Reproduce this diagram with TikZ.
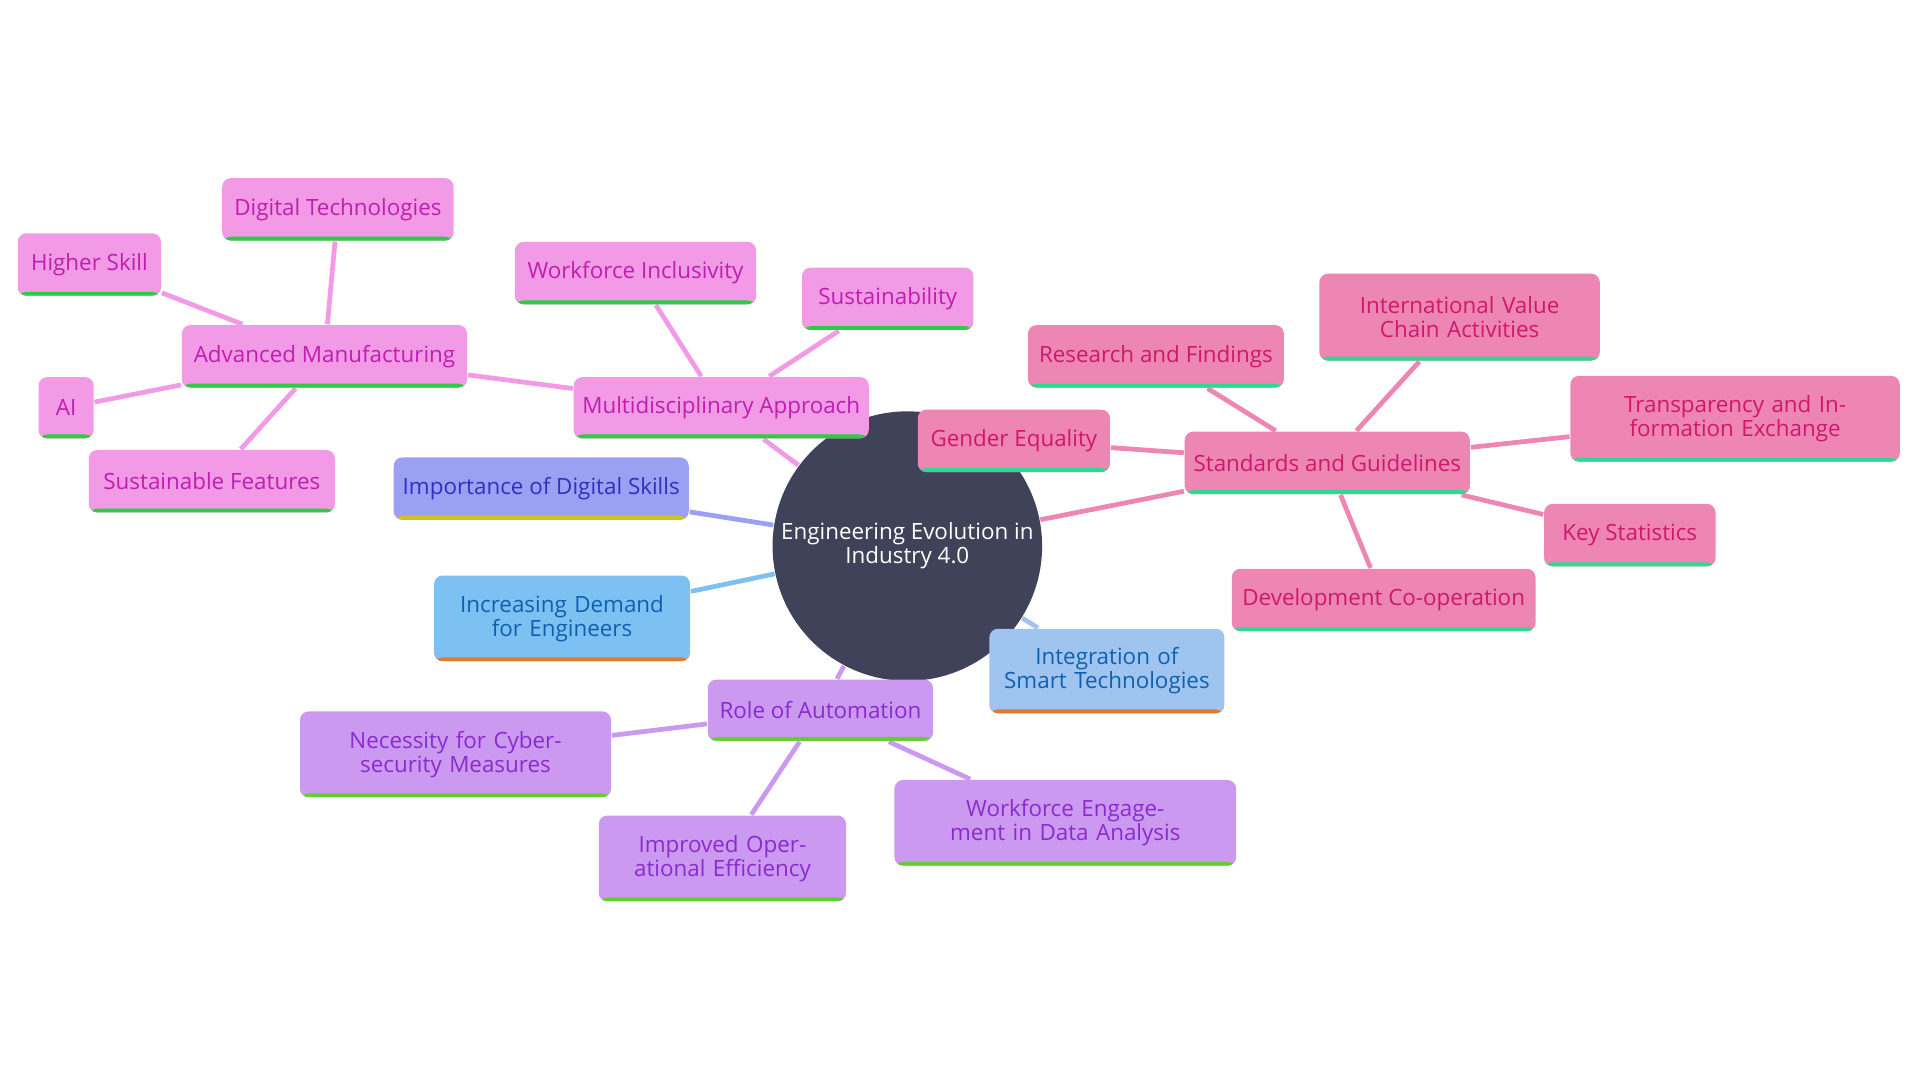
\documentclass[tikz,border=0pt]{standalone}
\usepackage{fontspec}
\setmainfont{Open Sans}
\usetikzlibrary{backgrounds}
\definecolor{rootFill}{HTML}{404259}
\definecolor{magFill}{HTML}{F29AE6}
\definecolor{magText}{HTML}{BF1FAE}
\definecolor{magLine}{HTML}{2ECC40}
\definecolor{indFill}{HTML}{9CA0F2}
\definecolor{indText}{HTML}{3030C0}
\definecolor{indLine}{HTML}{D4C020}
\definecolor{skyFill}{HTML}{7DC0F2}
\definecolor{skyText}{HTML}{1060B0}
\definecolor{iceFill}{HTML}{A0C4F0}
\definecolor{orgLine}{HTML}{E07B30}
\definecolor{purFill}{HTML}{CC99F0}
\definecolor{purText}{HTML}{8A2BD0}
\definecolor{purLine}{HTML}{66CC33}
\definecolor{rosFill}{HTML}{EE86B4}
\definecolor{rosText}{HTML}{D0186A}
\definecolor{rosLine}{HTML}{30D890}
\tikzset{
  box/.style={rounded corners=2pt, inner sep=0pt, font=\fontsize{5.2}{5.6}\selectfont, align=center},
  sz/.style 2 args={minimum width=#1*0.01cm, minimum height=#2*0.01cm},
  wrap/.style={text width=#1*0.01cm},
  underline/.style={path picture={\fill[#1] ([yshift=0.9pt]path picture bounding box.south west) rectangle (path picture bounding box.south east);}},
  mag/.style={box, fill=magFill, text=magText, underline=magLine},
  ind/.style={box, fill=indFill, text=indText, underline=indLine},
  sky/.style={box, fill=skyFill, text=skyText, underline=orgLine},
  ice/.style={box, fill=iceFill, text=skyText, underline=orgLine},
  pur/.style={box, fill=purFill, text=purText, underline=purLine},
  ros/.style={box, fill=rosFill, text=rosText, underline=rosLine},
  link/.style={line width=1.1pt, draw=#1},
}
\begin{document}
\begin{tikzpicture}[x=0.01cm, y=-0.01cm]
\useasboundingbox (0,0) rectangle (1568,882);
%root
\node[circle, fill=rootFill, text=white, minimum size=2.2cm, inner sep=0pt, align=center, font=\fontsize{5.2}{5.6}\selectfont] (root) at (741,446) {Engineering Evolution in\\Industry 4.0};

%multidisciplinary branch
\node[mag, sz={241}{50}] (multi) at (589,333) {Multidisciplinary Approach};
\node[mag, sz={233}{51}] (adv) at (265,291) {Advanced Manufacturing};
\node[mag, sz={189}{51}] (digtech) at (276,171) {Digital Technologies};
\node[mag, sz={117}{51}] (higher) at (73,216) {Higher Skill};
\node[mag, sz={45}{50}] (ai) at (54,333) {AI};
\node[mag, sz={201}{51}] (susfeat) at (173,393) {Sustainable Features};
\node[mag, sz={197}{51}] (inclus) at (519,223) {Workforce Inclusivity};
\node[mag, sz={140}{51}] (sustain) at (725,244) {Sustainability};

%single leaves
\node[ind, sz={241}{51}] (digskill) at (442,399) {Importance of Digital Skills};
\node[sky, sz={209}{70}, wrap=180] (demand) at (459,505) {Increasing Demand for Engineers};
\node[ice, sz={192}{69}, wrap=170] (smart) at (904,548) {Integration of Smart Technologies};

%automation branch
\node[pur, sz={184}{50}] (auto) at (670,580) {Role of Automation};
\node[pur, sz={254}{70}, wrap=235] (cyber) at (372,616) {Necessity for Cybersecurity Measures};
\node[pur, sz={202}{70}, wrap=185] (effic) at (590,701) {Improved Operational Efficiency};
\node[pur, sz={279}{70}, wrap=255] (engage) at (870,672) {Workforce Engagement in Data Analysis};

%standards branch
\node[ros, sz={233}{51}] (stand) at (1084,378) {Standards and Guidelines};
\node[ros, sz={157}{51}] (gender) at (828,360) {Gender Equality};
\node[ros, sz={209}{51}] (research) at (944,291) {Research and Findings};
\node[ros, sz={229}{71}, wrap=210] (value) at (1192,259) {International Value Chain Activities};
\node[ros, sz={269}{70}, wrap=250] (transp) at (1417,342) {Transparency and Information Exchange};
\node[ros, sz={140}{51}] (keystat) at (1331,437) {Key Statistics};
\node[ros, sz={248}{51}] (develop) at (1130,490) {Development Co-operation};

%links
\begin{scope}[on background layer]
 \draw[link=magFill] (root) -- (multi);
 \draw[link=magFill] (multi) -- (adv);
 \draw[link=magFill] (multi) -- (inclus);
 \draw[link=magFill] (multi) -- (sustain);
 \draw[link=magFill] (adv) -- (digtech);
 \draw[link=magFill] (adv) -- (higher);
 \draw[link=magFill] (adv) -- (ai);
 \draw[link=magFill] (adv) -- (susfeat);
 \draw[link=indFill] (root) -- (digskill);
 \draw[link=skyFill] (root) -- (demand);
 \draw[link=iceFill] (root) -- (smart);
 \draw[link=purFill] (root) -- (auto);
 \draw[link=purFill] (auto) -- (cyber);
 \draw[link=purFill] (auto) -- (effic);
 \draw[link=purFill] (auto) -- (engage);
 \draw[link=rosFill] (root) -- (stand);
 \draw[link=rosFill] (stand) -- (gender);
 \draw[link=rosFill] (stand) -- (research);
 \draw[link=rosFill] (stand) -- (value);
 \draw[link=rosFill] (stand) -- (transp);
 \draw[link=rosFill] (stand) -- (keystat);
 \draw[link=rosFill] (stand) -- (develop);
\end{scope}
\end{tikzpicture}
\end{document}
